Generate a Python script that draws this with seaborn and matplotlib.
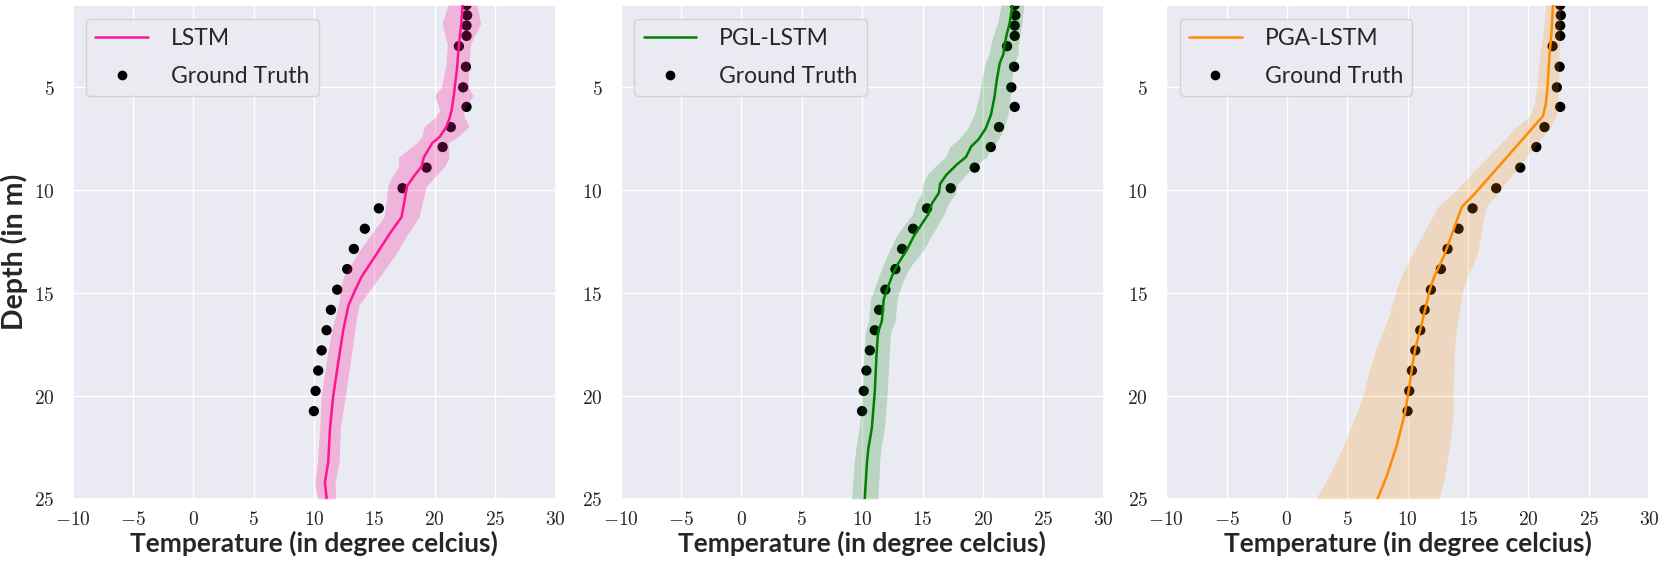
import numpy as np
import pandas as pd
import matplotlib
matplotlib.use("Agg")
import matplotlib.pyplot as plt
from matplotlib.ticker import FuncFormatter
from matplotlib.lines import Line2D
import seaborn as sns

# ---------------- observed profile ----------------
gt_depth = [1.0, 1.5, 2.0, 2.5, 3.0, 4.0, 5.0, 5.95, 6.93, 7.9, 8.9, 9.9,
            10.88, 11.87, 12.85, 13.83, 14.83, 15.81, 16.8, 17.78, 18.76,
            19.75, 20.73]
gt_temp = [22.63, 22.68, 22.63, 22.63, 22.0, 22.58, 22.35, 22.63, 21.33,
           20.65, 19.32, 17.33, 15.37, 14.21, 13.3, 12.75, 11.92, 11.4,
           11.04, 10.63, 10.35, 10.13, 9.99]

# ---------------- LSTM ----------------
lstm_depth = [1.0, 1.9, 2.9, 4.0, 4.98, 5.4, 6.1, 6.45, 6.9, 7.4, 7.7, 8.4,
              8.85, 9.3, 9.8, 10.6, 11.3, 12.1, 13.1, 14.2, 14.8, 15.6,
              16.8, 18.4, 20.0, 21.6, 23.2, 24.2, 24.6, 25.0]
lstm_temp = [22.3, 22.2, 22.0, 21.86, 21.66, 21.58, 21.4, 21.25, 20.98,
             20.42, 19.8, 19.1, 18.9, 18.3, 17.7, 17.47, 17.25, 16.28, 15.18,
             13.94, 13.45, 12.85, 12.42, 12.0, 11.59, 11.32, 11.18, 10.9,
             10.98, 11.04]
lstm_spread = [1.2, 1.6, 0.95, 0.97, 1.1, 1.6, 0.97, 1.2, 1.85, 1.5, 1.3,
               2.1, 1.9, 1.8, 1.6, 1.5, 1.45, 1.5, 1.6, 1.5, 1.24, 0.85,
               0.95, 1.0, 1.0, 0.85, 0.9, 0.83, 0.8, 0.72]

# ---------------- PGL-LSTM ----------------
pgl_depth = [1.0, 1.82, 2.51, 3.03, 3.38, 3.81, 4.58, 5.45, 6.32, 7.01,
             7.53, 7.87, 8.39, 8.74, 9.26, 9.69, 10.12, 10.64, 11.16, 11.68,
             12.2, 12.89, 13.58, 14.1, 14.79, 15.31, 16.35, 16.87, 17.21,
             18.08, 19.81, 21.54, 22.58, 23.27, 25.0]
pgl_temp = [22.44, 22.23, 21.94, 21.76, 21.7, 21.4, 21.16, 20.96, 20.67,
            20.22, 19.63, 19.03, 18.59, 17.85, 16.96, 16.45, 16.36, 15.78,
            15.48, 14.89, 14.3, 13.7, 12.96, 12.52, 12.07, 11.78, 11.63,
            11.33, 11.27, 11.18, 11.04, 10.8, 10.5, 10.39, 10.21]
pgl_spread = [0.93, 1.0, 1.1, 1.15, 1.2, 1.2, 1.25, 1.3, 1.4, 1.5, 1.65,
              1.75, 1.7, 1.65, 1.6, 1.45, 1.4, 1.35, 1.3, 1.4, 1.45, 1.4,
              1.2, 1.1, 1.08, 1.1, 1.1, 1.05, 1.04, 1.04, 1.04, 1.04, 1.04,
              1.05, 1.1]

# ---------------- PGA-LSTM ----------------
pga_depth = [1.0, 2.5, 3.4, 4.9, 5.8, 6.4, 7.0, 7.7, 8.4, 9.0, 9.6, 10.2,
             10.8, 11.5, 12.4, 13.2, 14.2, 14.8, 15.8, 16.8, 17.7, 18.7,
             19.8, 20.8, 22.4, 23.9, 25.0]
pga_temp = [22.03, 21.89, 21.74, 21.59, 21.44, 21.2, 20.3, 19.25, 18.2,
            17.3, 16.4, 15.5, 14.5, 14.05, 13.5, 13.0, 12.2, 11.85, 11.44,
            11.03, 10.62, 10.34, 10.06, 9.78, 9.09, 8.26, 7.49]
pga_spread = [0.6, 0.7, 0.8, 0.9, 0.95, 1.1, 1.45, 1.5, 1.6, 1.7, 1.77,
              1.85, 2.0, 2.2, 2.5, 2.7, 2.75, 2.75, 2.85, 3.0, 3.25, 3.5,
              3.7, 4.0, 4.4, 4.8, 5.1]

model_names = ["LSTM", "PGL-LSTM", "PGA-LSTM"]
model_colors = ["#ff1493", "#008000", "#ff8c00"]
model_alpha = [0.25, 0.2, 0.2]
models = [
    (lstm_depth, lstm_temp, lstm_spread),
    (pgl_depth, pgl_temp, pgl_spread),
    (pga_depth, pga_temp, pga_spread),
]

x_ticks = [-10, -5, 0, 5, 10, 15, 20, 25, 30]
y_ticks = [5, 10, 15, 20, 25]

sns.set_theme(style="darkgrid")
plt.rcParams["font.family"] = ["Lato", "DejaVu Sans"]
plt.rcParams["mathtext.fontset"] = "cm"

fig = plt.figure(figsize=(16.68, 5.64), dpi=100)
W, H = 1668.0, 564.0
lefts = [72.5, 620.7, 1166.2]
ax_w = 483.0
ax_top, ax_bot = 5.0, 499.0

num_fmt = FuncFormatter(lambda v, pos: "$%g$" % v)
gt_df = pd.DataFrame({"temp": gt_temp, "depth": gt_depth})

for i, (name, color, alpha, (dep, tmp, spr)) in enumerate(
        zip(model_names, model_colors, model_alpha, models)):
    ax = fig.add_axes([lefts[i] / W, (H - ax_bot) / H, ax_w / W,
                       (ax_bot - ax_top) / H])
    df = pd.DataFrame({"temp": tmp, "depth": dep, "spread": spr})

    sns.scatterplot(data=gt_df, x="temp", y="depth", ax=ax, color="black",
                    s=55, edgecolor="none", zorder=2, legend=False)
    sns.lineplot(data=df, x="temp", y="depth", orient="y", sort=False,
                 ax=ax, color=color, lw=1.8, zorder=3, legend=False)
    ax.fill_betweenx(df["depth"], df["temp"] - df["spread"],
                     df["temp"] + df["spread"], color=color, alpha=alpha,
                     lw=0, zorder=4)

    ax.set_xlim(-10, 30)
    ax.set_ylim(25, 1.0)
    ax.set_xticks(x_ticks)
    ax.set_yticks(y_ticks)
    ax.xaxis.set_major_formatter(num_fmt)
    ax.yaxis.set_major_formatter(num_fmt)
    ax.tick_params(axis="x", labelsize=14, pad=2)
    ax.tick_params(axis="y", labelsize=14, pad=7)

    ax.set_xlabel("Temperature (in degree celcius)", fontsize=19,
                  fontweight="bold", labelpad=2)
    if i == 0:
        ax.set_ylabel("Depth (in m)", fontsize=20.5, fontweight="bold",
                      labelpad=4)
    else:
        ax.set_ylabel("")

    handles = [
        Line2D([], [], color=color, lw=1.8),
        Line2D([], [], color="black", marker="o", ls="none", markersize=7,
               markeredgewidth=0),
    ]
    ax.legend(handles, [name, "Ground Truth"], loc="upper left",
              fontsize=16.5, handlelength=2.3, handletextpad=1.0,
              labelspacing=0.75, borderaxespad=0.6)

fig.savefig("out.png", dpi=100)
